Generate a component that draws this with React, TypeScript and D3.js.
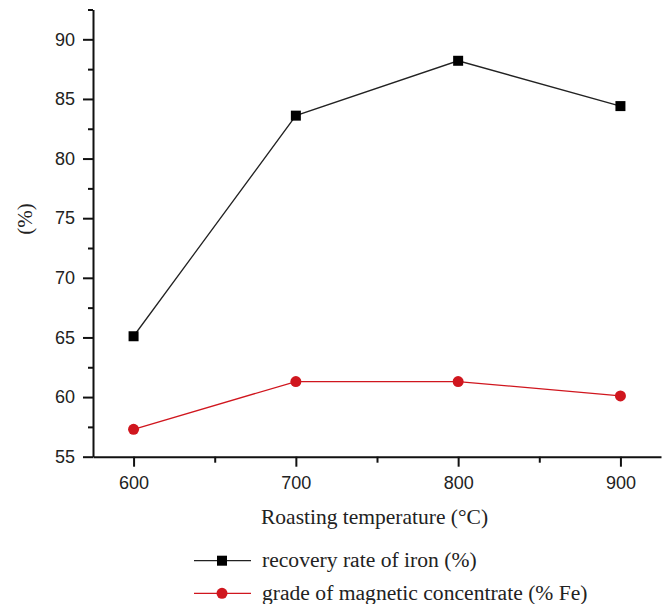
import React, { useEffect, useRef } from 'react';
import * as d3 from 'd3';

const temperatures = [600, 700, 800, 900];
const recoveryRate = [65.1, 83.6, 88.2, 84.4];
const concentrateGrade = [57.3, 61.3, 61.3, 60.1];
const yMajorTicks = [55, 60, 65, 70, 75, 80, 85, 90];
const yMinorTicks = [57.5, 62.5, 67.5, 72.5, 77.5, 82.5, 87.5, 92.5];
const xMinorTicks = [650, 750, 850];
const seriesNames = ['recovery rate of iron (%)', 'grade of magnetic concentrate (% Fe)'];

const WIDTH = 667;
const HEIGHT = 604;
const margin = { top: 9.5, right: 6, bottom: 147.3, left: 93 };
const RED = '#d0161e';
const SERIF = '"Liberation Serif", "Times New Roman", serif';
const SANS = '"Liberation Sans", Arial, sans-serif';

function App() {
  const svgRef = useRef<SVGSVGElement>(null);

  useEffect(() => {
    const svg = d3.select(svgRef.current);
    svg.selectAll('*').remove();

    const w = WIDTH - margin.left - margin.right;
    const h = HEIGHT - margin.top - margin.bottom;

    const x = d3.scaleLinear().domain([575, 925]).range([0, w]);
    const y = d3.scaleLinear().domain([55, 92.5]).range([h, 0]);

    const g = svg.append('g').attr('transform', `translate(${margin.left},${margin.top})`);

    // minor ticks first, the main axes go on top
    g.append('g')
      .call(d3.axisLeft(y).tickValues(yMinorTicks).tickSize(5).tickFormat(() => ''))
      .call(a => a.select('.domain').remove())
      .selectAll('line').attr('stroke', '#111').attr('stroke-width', 2);

    g.append('g')
      .attr('transform', `translate(0,${h})`)
      .call(d3.axisBottom(x).tickValues(xMinorTicks).tickSize(6).tickFormat(() => ''))
      .call(a => a.select('.domain').remove())
      .selectAll('line').attr('stroke', '#111').attr('stroke-width', 2);

    const yAxis = g.append('g')
      .call(d3.axisLeft(y).tickValues(yMajorTicks).tickSize(10).tickSizeOuter(0).tickPadding(8));
    yAxis.select('.domain').attr('stroke', '#111').attr('stroke-width', 2);
    yAxis.selectAll('line').attr('stroke', '#111').attr('stroke-width', 2);
    yAxis.selectAll('text').attr('font-family', SANS).attr('font-size', 18).attr('fill', '#222');

    const xAxis = g.append('g')
      .attr('transform', `translate(0,${h})`)
      .call(d3.axisBottom(x).tickValues(temperatures).tickSize(10).tickSizeOuter(0).tickPadding(10));
    xAxis.select('.domain').attr('stroke', '#111').attr('stroke-width', 2);
    xAxis.selectAll('line').attr('stroke', '#111').attr('stroke-width', 2);
    xAxis.selectAll('text').attr('font-family', SANS).attr('font-size', 18).attr('fill', '#222');

    // axis titles
    svg.append('text')
      .attr('x', 261).attr('y', 524)
      .attr('font-family', SERIF).attr('font-size', 21.5).attr('fill', '#222')
      .text('Roasting temperature (°C)');

    svg.append('text')
      .attr('transform', 'translate(32,219) rotate(-90)')
      .attr('text-anchor', 'middle')
      .attr('font-family', SERIF).attr('font-size', 21).attr('fill', '#222')
      .text('(%)');

    const line = d3.line<[number, number]>().x(d => x(d[0])).y(d => y(d[1]));

    const recPts = temperatures.map((t, i) => [t, recoveryRate[i]] as [number, number]);
    const gradePts = temperatures.map((t, i) => [t, concentrateGrade[i]] as [number, number]);

    g.append('path').attr('d', line(recPts)).attr('fill', 'none').attr('stroke', '#222').attr('stroke-width', 1.3);
    g.append('path').attr('d', line(gradePts)).attr('fill', 'none').attr('stroke', RED).attr('stroke-width', 1.3);

    g.selectAll('.sq').data(recPts).enter().append('rect')
      .attr('x', d => x(d[0]) - 5).attr('y', d => y(d[1]) - 5)
      .attr('width', 10).attr('height', 10).attr('fill', '#000');

    g.selectAll('.dot').data(gradePts).enter().append('circle')
      .attr('cx', d => x(d[0])).attr('cy', d => y(d[1])).attr('r', 5.5).attr('fill', RED);

    // legend
    const legend = svg.append('g');
    seriesNames.forEach((name, i) => {
      const ly = 560.7 + i * 32.6;
      const color = i === 0 ? '#222' : RED;
      legend.append('line').attr('x1', 194).attr('x2', 251).attr('y1', ly).attr('y2', ly)
        .attr('stroke', color).attr('stroke-width', 1.3);
      if (i === 0) {
        legend.append('rect').attr('x', 222 - 5).attr('y', ly - 5).attr('width', 10).attr('height', 10).attr('fill', '#000');
      } else {
        legend.append('circle').attr('cx', 222).attr('cy', ly).attr('r', 5.5).attr('fill', RED);
      }
      legend.append('text').attr('x', 262).attr('y', ly + 6.5)
        .attr('font-family', SERIF).attr('font-size', 21.6).attr('fill', '#222')
        .text(name);
    });
  }, []);

  return (
    <svg ref={svgRef} width={WIDTH} height={HEIGHT}
      style={{ position: 'absolute', left: 0, top: 0, background: '#fff' }} />
  );
}

export default App;
